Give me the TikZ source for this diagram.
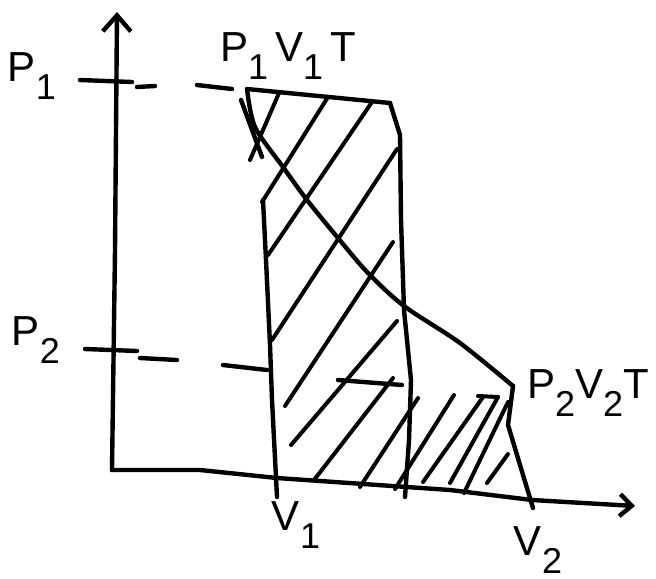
\documentclass[tikz,border=0pt]{standalone}
\usepackage{fontspec}
\setmainfont{Liberation Sans}
\usetikzlibrary{arrows.meta}
\newcommand{\lowidx}[1]{\raisebox{-0.8ex}{\fontsize{18}{18}\selectfont #1}}

\begin{document}
\begin{tikzpicture}[x=0.5pt,y=-0.5pt,line width=2.2pt,line cap=round,line join=round,
  lbl/.style={font=\fontsize{21}{24}\selectfont,inner sep=0pt},
  hatch/.style={line width=2pt}]
  \useasboundingbox (0,0) rectangle (656,578);

  % axes
  \coordinate (O) at (112,470);
  \coordinate (ytip) at (117,12);
  \coordinate (xtip) at (635,506);
  \draw[-{Straight Barb[length=8pt,width=14pt]}] (O) -- (115,250) -- (ytip);
  \draw[-{Straight Barb[length=6pt,width=11pt]}] (O) -- (200,470) -- (277,478)
    -- (450,490) -- (532,500) -- (xtip);

  % labels
  \node[lbl] (p1) at (32,76) {P\lowidx{1}};
  \node[lbl] (p2) at (36,340) {P\lowidx{2}};
  \node[lbl] (st1) at (288,56) {P\lowidx{1}\,V\lowidx{1}\,T};
  \node[lbl] (st2) at (588,393) {P\lowidx{2}V\lowidx{2}T};
  \node[lbl] (v1) at (296,525) {V\lowidx{1}};
  \node[lbl] (v2) at (538,550) {V\lowidx{2}};

  % ticks and guide dashes
  \draw (80,80) -- (132,82);
  \draw (85,349) -- (137,351);
  \draw (137,87) -- (155,86);
  \draw (197,85) -- (232,89);
  \draw (140,358) -- (177,360);
  \draw (223,365) -- (267,370);
  \draw (338,380) -- (402,385);

  % states
  \coordinate (a) at (247,89);
  \coordinate (b) at (390,103);
  \coordinate (c) at (513,386);

  % isotherm
  \draw plot[smooth,tension=0.5] coordinates {(a) (255,127) (283,167) (307,200)
    (338,238) (368,273) (404,306) (460,343) (c)};
  \draw (241,100) -- (262,157);

  % region edges
  \draw (a) -- (b);
  \draw (b) -- (400,135) -- (401,220) -- (404,310) -- (411,380) -- (409,440) -- (405,497);
  \draw (263,200) -- (266,260) -- (270,345) -- (272,400) -- (277,497);
  \draw (c) -- (508,425) -- (520,465) -- (533,508);

  % hatching
  \foreach \xa/\ya/\xb/\yb in {250/160/279/93, 262/202/328/97, 268/255/372/102,
      272/340/397/149, 285/406/393/242, 291/445/397/321, 314/480/393/378,
      360/487/418/398, 395/489/454/395, 423/482/483/397, 450/483/498/397,
      464/493/508/402, 487/483/508/454}
    \draw[hatch] (\xa,\ya) -- (\xb,\yb);
  \draw[hatch] (498,397) -- (478,396);
\end{tikzpicture}
\end{document}
